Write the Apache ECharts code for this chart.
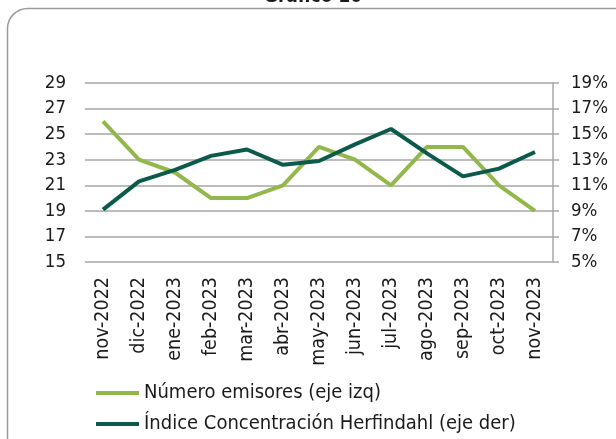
<!DOCTYPE html>
<html>
<head>
<meta charset="utf-8">
<script src="https://cdn.jsdelivr.net/npm/echarts@6/dist/echarts.min.js"></script>
<style>
  html, body { margin: 0; padding: 0; background: #fff; }
  #chart { width: 616px; height: 439px; }
</style>
</head>
<body>
<div id="chart"></div>
<script>
(function() {
  var months = ['nov-2022', 'dic-2022', 'ene-2023', 'feb-2023', 'mar-2023', 'abr-2023', 'may-2023',
    'jun-2023', 'jul-2023', 'ago-2023', 'sep-2023', 'oct-2023', 'nov-2023'];
  var emisores = [26, 23, 22, 20, 20, 21, 24, 23, 21, 24, 24, 21, 19];
  var herfindahl = [9.1, 11.3, 12.2, 13.3, 13.8, 12.6, 12.9, 14.2, 15.4, 13.5, 11.7, 12.3, 13.6];

  var font = '"DejaVu Sans Condensed", "DejaVu Sans", sans-serif';
  var ink = '#1a1a1a';
  var grid = '#a6a6a6';
  var light = '#92b74a';
  var dark = '#0c5a4b';

  var el = document.getElementById('chart');
  var chart = echarts.init(el, null, { renderer: 'canvas' });
  chart.setOption({
    animation: false,
    textStyle: { fontFamily: font },
    graphic: [
      {
        type: 'rect',
        shape: { x: 7.5, y: 8.5, width: 640, height: 470, r: 20 },
        style: { fill: 'none', stroke: '#9a9a9a', lineWidth: 1.5 },
        z: -1
      },
      {
        type: 'text',
        x: 313, y: 7,
        style: {
          text: 'Gráfico 10', fontFamily: font, fontSize: 19, fontWeight: 'bold',
          fill: ink, align: 'center', verticalAlign: 'bottom'
        }
      }
    ],
    grid: { left: 85, right: 63, top: 83, bottom: 177 },
    legend: {
      orient: 'vertical',
      left: 91,
      top: 378,
      icon: 'rect',
      itemWidth: 43,
      itemHeight: 4,
      itemGap: 11,
      textStyle: { color: ink, fontSize: 20, fontFamily: font },
      data: ['Número emisores (eje izq)', 'Índice Concentración Herfindahl (eje der)']
    },
    xAxis: {
      type: 'category',
      data: months,
      boundaryGap: true,
      axisLine: { show: false },
      axisTick: { show: false },
      axisLabel: { rotate: 90, color: ink, fontSize: 19.5, margin: 15, interval: 0 }
    },
    yAxis: [
      {
        type: 'value', min: 15, max: 29, interval: 2,
        axisLine: { show: false },
        axisTick: { show: false },
        axisLabel: { color: ink, fontSize: 18.5, margin: 19 },
        splitLine: { lineStyle: { color: grid, width: 1.5 } }
      },
      {
        type: 'value', min: 5, max: 19, interval: 2,
        position: 'right',
        axisLine: { show: true, lineStyle: { color: grid, width: 1.5 } },
        axisTick: { show: true, length: 6, lineStyle: { color: grid, width: 1.5 } },
        axisLabel: { color: ink, fontSize: 18.5, margin: 18, formatter: '{value}%' },
        splitLine: { show: false }
      }
    ],
    series: [
      {
        name: 'Número emisores (eje izq)',
        type: 'line',
        yAxisIndex: 0,
        data: emisores,
        symbol: 'none',
        lineStyle: { color: light, width: 4 },
        itemStyle: { color: light }
      },
      {
        name: 'Índice Concentración Herfindahl (eje der)',
        type: 'line',
        yAxisIndex: 1,
        data: herfindahl,
        symbol: 'none',
        lineStyle: { color: dark, width: 4 },
        itemStyle: { color: dark }
      }
    ]
  });
  window.addEventListener('resize', function() { chart.resize(); });
})();
</script>
</body>
</html>
